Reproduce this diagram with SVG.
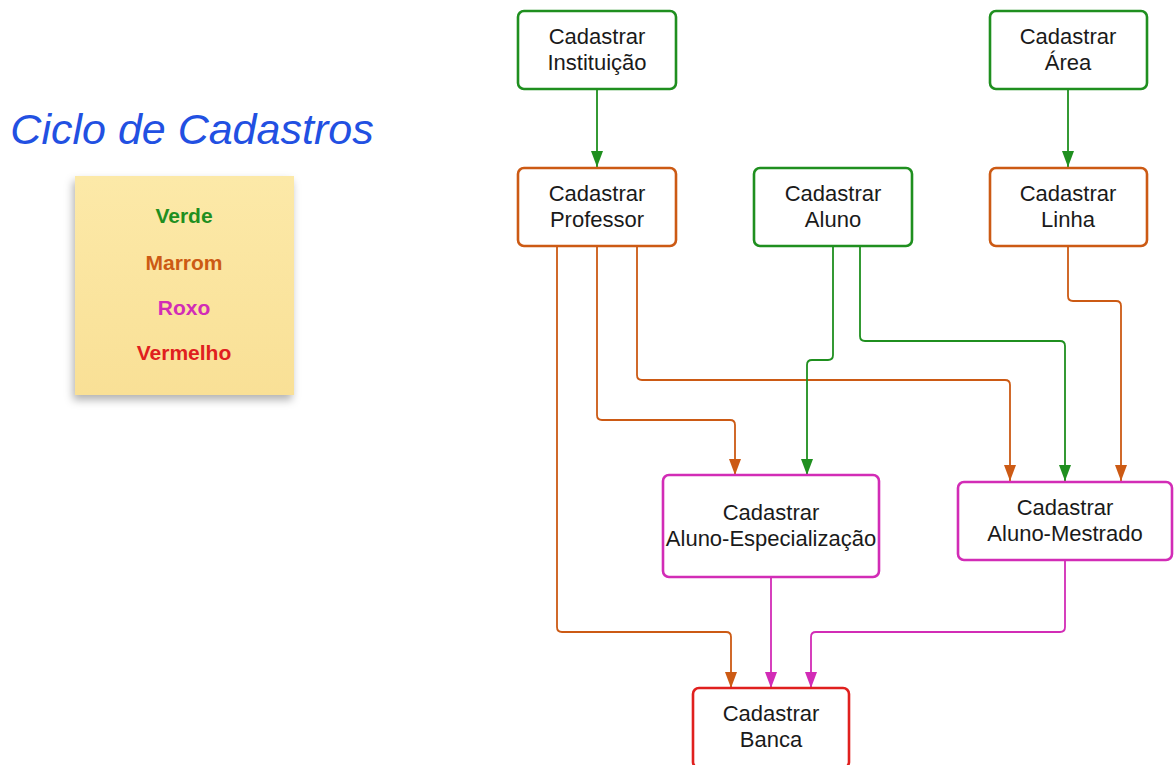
<svg xmlns="http://www.w3.org/2000/svg" width="1174" height="765" viewBox="0 0 1174 765">
<style>
.box{fill:#fff;stroke-width:2.6}
.g{stroke:#1f8f1f}.o{stroke:#cc5a14}.p{stroke:#d22cb6}.r{stroke:#e0201e}
.t{font-family:"Liberation Sans",Arial,sans-serif;font-size:22px;fill:#1a1a1a;text-anchor:middle}
.e{fill:none;stroke-width:1.8}
.leg{font-family:"Liberation Sans",Arial,sans-serif;font-size:21px;font-weight:bold;text-anchor:middle}
</style>
<defs>
<marker id="ag" viewBox="0 0 16 12" refX="16" refY="6" markerWidth="16" markerHeight="12" markerUnits="userSpaceOnUse" orient="auto"><path d="M0,0 L16,6 L0,12 z" fill="#1f8f1f"/></marker>
<marker id="ao" viewBox="0 0 16 12" refX="16" refY="6" markerWidth="16" markerHeight="12" markerUnits="userSpaceOnUse" orient="auto"><path d="M0,0 L16,6 L0,12 z" fill="#cc5a14"/></marker>
<marker id="ap" viewBox="0 0 16 12" refX="16" refY="6" markerWidth="16" markerHeight="12" markerUnits="userSpaceOnUse" orient="auto"><path d="M0,0 L16,6 L0,12 z" fill="#d22cb6"/></marker>
<linearGradient id="note" x1="0" y1="0" x2="0" y2="1"><stop offset="0" stop-color="#fce9a8"/><stop offset="1" stop-color="#f9e096"/></linearGradient>
<filter id="sh" x="-20%" y="-20%" width="140%" height="140%"><feDropShadow dx="-2" dy="5" stdDeviation="4" flood-color="#000" flood-opacity="0.3"/></filter>
</defs>

<text x="192" y="144" font-family="'Liberation Sans',Arial,sans-serif" font-size="43" font-style="italic" fill="#2250e2" text-anchor="middle">Ciclo de Cadastros</text>

<g id="legend">
<rect x="75" y="176" width="219" height="219" fill="url(#note)" filter="url(#sh)"/>
<text class="leg" x="184" y="223" fill="#1f8f1f">Verde</text>
<text class="leg" x="184" y="270" fill="#cc5a14">Marrom</text>
<text class="leg" x="184" y="315" fill="#d22cb6">Roxo</text>
<text class="leg" x="184" y="360" fill="#e0201e">Vermelho</text>
</g>

<g id="connectors">
<path class="e g" d="M597 89 V167" marker-end="url(#ag)"/>
<path class="e g" d="M1068 89 V167" marker-end="url(#ag)"/>
<path class="e o" d="M557 247 V627 Q557 632 562 632 H726 Q731 632 731 637 V688" marker-end="url(#ao)"/>
<path class="e o" d="M597 247 V415 Q597 420 602 420 H730 Q735 420 735 425 V475" marker-end="url(#ao)"/>
<path class="e o" d="M637 247 V375 Q637 380 642 380 H1005 Q1010 380 1010 385 V481" marker-end="url(#ao)"/>
<path class="e g" d="M833 247 V355 Q833 360 828 360 H812 Q807 360 807 365 V475" marker-end="url(#ag)"/>
<path class="e g" d="M860 247 V336 Q860 341 865 341 H1060 Q1065 341 1065 346 V481" marker-end="url(#ag)"/>
<path class="e o" d="M1068 247 V296 Q1068 301 1073 301 H1116 Q1121 301 1121 306 V481" marker-end="url(#ao)"/>
<path class="e p" d="M771 578 V688" marker-end="url(#ap)"/>
<path class="e p" d="M1065 561 V627 Q1065 632 1060 632 H816 Q811 632 811 637 V688" marker-end="url(#ap)"/>
</g>

<g id="instituicao">
<rect class="box g" x="518" y="11" width="158" height="78" rx="6"/>
<text class="t" x="597" y="44">Cadastrar</text>
<text class="t" x="597" y="70">Instituição</text>
</g>
<g id="area">
<rect class="box g" x="990" y="11" width="157" height="78" rx="6"/>
<text class="t" x="1068" y="44">Cadastrar</text>
<text class="t" x="1068" y="70">Área</text>
</g>
<g id="professor">
<rect class="box o" x="518" y="168" width="158" height="78" rx="6"/>
<text class="t" x="597" y="201">Cadastrar</text>
<text class="t" x="597" y="227">Professor</text>
</g>
<g id="aluno">
<rect class="box g" x="754" y="168" width="158" height="78" rx="6"/>
<text class="t" x="833" y="201">Cadastrar</text>
<text class="t" x="833" y="227">Aluno</text>
</g>
<g id="linha">
<rect class="box o" x="990" y="168" width="157" height="78" rx="6"/>
<text class="t" x="1068" y="201">Cadastrar</text>
<text class="t" x="1068" y="227">Linha</text>
</g>
<g id="aluno-especializacao">
<rect class="box p" x="663" y="475" width="216" height="102" rx="6"/>
<text class="t" x="771" y="520">Cadastrar</text>
<text class="t" x="771" y="546">Aluno-Especialização</text>
</g>
<g id="aluno-mestrado">
<rect class="box p" x="958" y="482" width="214" height="78" rx="6"/>
<text class="t" x="1065" y="515">Cadastrar</text>
<text class="t" x="1065" y="541">Aluno-Mestrado</text>
</g>
<g id="banca">
<rect class="box r" x="693" y="688" width="156" height="80" rx="6"/>
<text class="t" x="771" y="721">Cadastrar</text>
<text class="t" x="771" y="747">Banca</text>
</g>
</svg>
